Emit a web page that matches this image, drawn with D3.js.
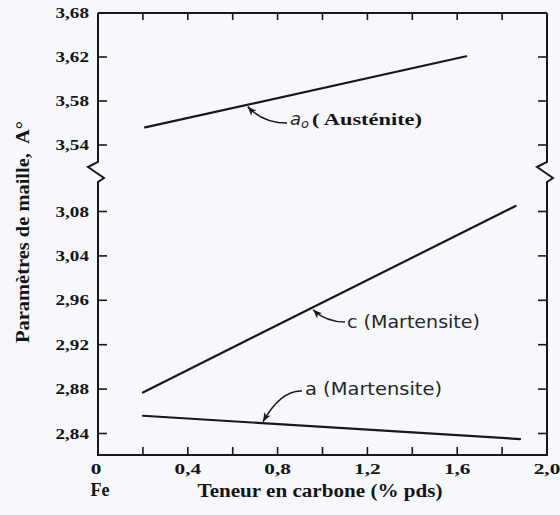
<!DOCTYPE html>
<html>
<head>
<meta charset="utf-8">
<script src="https://cdn.jsdelivr.net/npm/d3@7"></script>
<style>
  html, body { margin: 0; padding: 0; background: #f6f8fb; }
  svg { display: block; }
  .serif { font-family: "Liberation Serif", "Times New Roman", serif; font-weight: bold; fill: #141414; }
  .sans  { font-family: "DejaVu Sans", sans-serif; fill: #262626; }
</style>
</head>
<body>
<svg id="chart" width="560" height="515"></svg>
<script>
// Carbon content axis (wt %)
const xTickMarks   = [0.2, 0.4, 0.6, 0.8, 1.0, 1.2, 1.4, 1.6, 1.8];
const xLabelValues = [0, 0.4, 0.8, 1.2, 1.6, 2.0];
const xLabels      = ["0", "0,4", "0,8", "1,2", "1,6", "2,0"];

// Lattice parameter axis: lower panel (martensite) and upper panel (austenite)
const yLowerTicks  = [2.84, 2.88, 2.92, 2.96, 3.04, 3.08];
const yLowerLabels = ["2,84", "2,88", "2,92", "2,96", "3,04", "3,08"];
const yUpperTicks  = [3.54, 3.58, 3.62, 3.68];
const yUpperLabels = ["3,54", "3,58", "3,62", "3,68"];

// Series: [carbon wt %, lattice parameter in Å]
const austeniteA0 = [[0.21, 3.556], [1.64, 3.621]];
const martensiteC = [[0.20, 2.877], [1.86, 3.085]];
const martensiteA = [[0.20, 2.856], [1.88, 2.835]];

const svg = d3.select("#chart");
const plotLeft = 98, plotRight = 547, plotTop = 13, plotBottom = 455;
const ink = "#17181d";

const x = d3.scaleLinear().domain([0, 2]).range([plotLeft, plotRight]);

// Broken, piecewise y scale: evenly spaced tick rows in each panel
const stepL = 44.4, yL0 = 433.5;          // lower panel
const stepU = 44;                          // upper panel, 3,68 at the top edge
const yDomain = [2.80, ...yLowerTicks, 3.10, 3.52, ...yUpperTicks];
const yRange = [
  yL0 + stepL,
  ...yLowerTicks.map((_, i) => yL0 - i * stepL),
  yL0 - (yLowerTicks.length - 1) * stepL - stepL / 2,
  plotTop + (yUpperTicks.length - 1) * stepU + stepU / 2,
  ...yUpperTicks.map((_, i) => plotTop + (yUpperTicks.length - 1 - i) * stepU)
];
const y = d3.scaleLinear().domain(yDomain).range(yRange);

const breakY = y(3.54) + 27;

// Frame with break marks on both vertical sides
function sideWithBreak(xp) {
  const p = d3.path();
  p.moveTo(xp, plotTop);
  p.lineTo(xp, breakY - 10);
  p.lineTo(xp - 10, breakY - 5);
  p.lineTo(xp + 6, breakY + 6);
  p.lineTo(xp, breakY + 10);
  p.lineTo(xp, plotBottom);
  return p.toString();
}
const frame = svg.append("g").attr("fill", "none").attr("stroke", ink)
  .attr("stroke-width", 2).attr("stroke-linejoin", "miter");
frame.append("path").attr("d", `M${plotLeft},${plotTop}H${plotRight}`);
frame.append("path").attr("d", `M${plotLeft - 1},${plotBottom}H${plotRight + 1}`);
frame.append("path").attr("d", sideWithBreak(plotLeft));
frame.append("path").attr("d", sideWithBreak(plotRight));

// Inward tick marks
const ticks = svg.append("g").attr("stroke", ink).attr("stroke-width", 1.6);
xTickMarks.forEach(v => {
  ticks.append("line").attr("x1", x(v)).attr("x2", x(v)).attr("y1", plotBottom).attr("y2", plotBottom - 8);
  ticks.append("line").attr("x1", x(v)).attr("x2", x(v)).attr("y1", plotTop).attr("y2", plotTop + 7);
});
[...yLowerTicks, ...yUpperTicks.filter(v => v < 3.68)].forEach(v => {
  ticks.append("line").attr("x1", plotLeft).attr("x2", plotLeft + 9).attr("y1", y(v)).attr("y2", y(v));
  ticks.append("line").attr("x1", plotRight).attr("x2", plotRight - 9).attr("y1", y(v)).attr("y2", y(v));
});

// Text drawn with a horizontal stretch
function stretched(g, cls, px, py, str, anchor, size, sx) {
  return g.append("text").attr("class", cls)
    .attr("transform", `translate(${px},${py}) scale(${sx},1)`)
    .attr("text-anchor", anchor).attr("font-size", size).text(str);
}

const labels = svg.append("g");
yLowerTicks.forEach((v, i) => stretched(labels, "serif", 89, y(v) + 5, yLowerLabels[i], "end", 14.5, 1.32));
yUpperTicks.forEach((v, i) => stretched(labels, "serif", 89, y(v) + 5, yUpperLabels[i], "end", 14.5, 1.32));
xLabelValues.forEach((v, i) => stretched(labels, "serif", x(v) - (v === 0 ? 2 : 0), 474, xLabels[i], "middle", 15, 1.42));

// Axis titles
labels.append("text").attr("class", "serif").attr("x", 100).attr("y", 496)
  .attr("text-anchor", "middle").attr("font-size", 18).text("Fe");
labels.append("text").attr("class", "serif").attr("x", 320).attr("y", 497)
  .attr("text-anchor", "middle").attr("font-size", 18)
  .attr("textLength", 245).attr("lengthAdjust", "spacingAndGlyphs")
  .text("Teneur en carbone (% pds)");
labels.append("text").attr("class", "serif")
  .attr("transform", "translate(29,232) rotate(-90)")
  .attr("text-anchor", "middle").attr("font-size", 19)
  .attr("textLength", 222).attr("lengthAdjust", "spacingAndGlyphs")
  .style("white-space", "pre")
  .text("Paramètres de maille,  A°");

// Series lines
const line = d3.line().x(d => x(d[0])).y(d => y(d[1]));
const series = svg.append("g").attr("fill", "none").attr("stroke", ink)
  .attr("stroke-width", 2.2).attr("stroke-linecap", "round");
[austeniteA0, martensiteC, martensiteA].forEach(s => series.append("path").attr("d", line(s)));

// Curved leader arrows from labels to lines
function leader(from, ctrl, to) {
  svg.append("path")
    .attr("d", `M${from[0]},${from[1]}Q${ctrl[0]},${ctrl[1]} ${to[0]},${to[1]}`)
    .attr("fill", "none").attr("stroke", ink).attr("stroke-width", 1.6);
  const a = Math.atan2(to[1] - ctrl[1], to[0] - ctrl[0]);
  const L = 9, W = 3.6;
  const bx = to[0] - L * Math.cos(a), by = to[1] - L * Math.sin(a);
  const nx = -Math.sin(a) * W, ny = Math.cos(a) * W;
  svg.append("path")
    .attr("d", `M${to[0]},${to[1]}L${bx + nx},${by + ny}L${bx + 2.5 * Math.cos(a)},${by + 2.5 * Math.sin(a)}L${bx - nx},${by - ny}Z`)
    .attr("fill", ink);
}

// Point just off a drawn series segment, at a given carbon content
function onLine(s, c, dy) {
  const x0 = x(s[0][0]), x1 = x(s[1][0]);
  const y0 = y(s[0][1]), y1 = y(s[1][1]);
  const t = (x(c) - x0) / (x1 - x0);
  return [x(c), y0 + t * (y1 - y0) + dy];
}

const tipA0 = onLine(austeniteA0, 0.667, 2);
leader([287, 123], [263, 123], tipA0);
const tipC = onLine(martensiteC, 0.958, 2.5);
leader([345, 322], [326, 322], tipC);
const tipA = onLine(martensiteA, 0.735, -1.5);
leader([302, 391], [281, 390], tipA);

// Austenite label: a0 followed by the phase name
const aLab = svg.append("text").attr("class", "sans").attr("x", 290).attr("y", 125)
  .attr("font-size", 18).attr("font-style", "italic");
aLab.append("tspan").text("a");
aLab.append("tspan").attr("dy", 3).attr("font-size", 13).text("o");
svg.append("text").attr("class", "serif").attr("x", 312).attr("y", 125)
  .attr("font-size", 17).attr("textLength", 110).attr("lengthAdjust", "spacingAndGlyphs")
  .style("white-space", "pre").text("( Austénite)");

svg.append("text").attr("class", "sans").attr("x", 347).attr("y", 328)
  .attr("font-size", 18).attr("textLength", 133).attr("lengthAdjust", "spacingAndGlyphs")
  .text("c (Martensite)");
svg.append("text").attr("class", "sans").attr("x", 305).attr("y", 395)
  .attr("font-size", 18).attr("textLength", 137).attr("lengthAdjust", "spacingAndGlyphs")
  .text("a (Martensite)");
</script>
</body>
</html>
